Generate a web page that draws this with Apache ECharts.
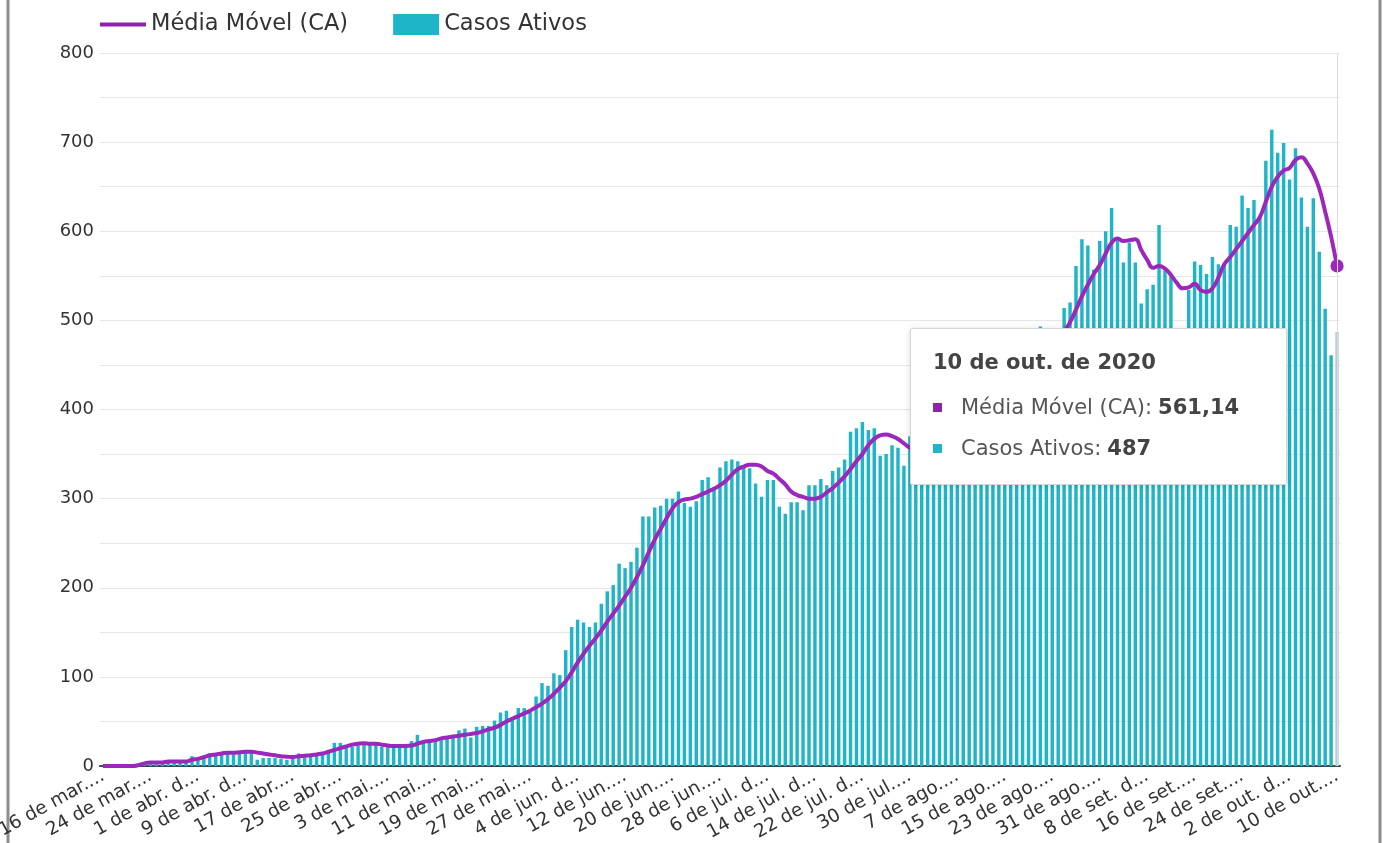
<!DOCTYPE html>
<html>
<head>
<meta charset="utf-8">
<script src="https://cdn.jsdelivr.net/npm/echarts@6/dist/echarts.min.js"></script>
<style>
  html, body { margin: 0; padding: 0; background: #fff; }
  #chart-container { width: 1391px; height: 843px; }
</style>
</head>
<body>
<div id="chart-container"></div>
<script>
// Casos ativos por dia (16 de mar. a 10 de out. de 2020)
const casosAtivos = [
  0, 0, 0, 0, 0, 2, 3, 4, 4, 4,
  5, 5, 5, 6, 6, 11, 9, 12, 14, 14,
  14, 15, 14, 15, 15, 15, 7, 9, 9, 9,
  8, 7, 9, 14, 10, 11, 12, 14, 18, 26,
  26, 22, 22, 23, 24, 24, 24, 22, 22, 21,
  21, 22, 28, 35, 28, 27, 28, 30, 31, 33,
  40, 42, 32, 44, 45, 45, 51, 60, 62, 55,
  65, 65, 63, 78, 93, 90, 104, 102, 130, 156,
  164, 161, 156, 161, 182, 196, 203, 227, 222, 229,
  245, 280, 280, 290, 292, 300, 300, 308, 295, 291,
  297, 321, 324, 313, 335, 342, 344, 342, 336, 334,
  317, 302, 321, 321, 291, 283, 296, 296, 287, 315,
  315, 322, 315, 331, 335, 344, 375, 379, 386, 377,
  379, 348, 350, 360, 357, 337, 370, 345, 352, 355,
  340, 362, 375, 370, 385, 392, 380, 405, 410, 398,
  425, 430, 418, 445, 455, 440, 468, 475, 493, 480,
  486, 478, 514, 520, 561, 591, 584, 557, 589, 600,
  626, 590, 565, 587, 565, 519, 535, 540, 607, 556,
  549, 485, 470, 534, 566, 562, 552, 571, 563, 563,
  607, 605, 640, 626, 635, 616, 679, 714, 688, 699,
  658, 693, 638, 605, 637, 577, 513, 461, 487
];

// Média móvel
const mediaMovel = [
  0, 0, 0, 0, 0, 0, 1, 3, 4, 4,
  4, 5, 5, 5, 5, 7, 8, 10, 12, 13,
  14, 15, 15, 15.5, 16, 16, 15, 14, 13, 12,
  11, 10.5, 10, 11, 11.5, 12, 13, 14, 16, 18,
  20, 22, 24, 25, 25.5, 25, 25, 24, 23, 22.5,
  22.5, 22.5, 23, 25, 27, 28, 29, 31, 32, 33,
  34, 35, 36, 37, 39, 41, 43, 46, 50, 53,
  56, 59, 62, 66, 70, 75, 81, 88, 95, 105,
  116, 126, 135, 143, 152, 162, 171, 180, 190, 200,
  212, 225, 240, 254, 266, 278, 289, 296, 299, 300,
  302, 305, 308, 311, 315, 320, 327, 333, 336, 338,
  338, 336, 331, 328, 322, 316, 308, 304, 302, 300,
  300, 302, 307, 312, 318, 325, 333, 342, 350, 360,
  367, 371, 372, 370, 367, 362, 357, 354, 352, 351,
  352, 355, 358, 362, 367, 372, 378, 384, 391, 398,
  405, 412, 419, 426, 433, 441, 449, 457, 465, 472,
  478, 483, 488, 498, 512, 527, 540, 552, 562, 575,
  587, 592, 589, 590, 591, 579, 568, 559, 561, 558,
  551, 542, 536, 537, 541, 534, 532, 536, 548, 563,
  571, 580, 589, 598, 607, 616, 633, 650, 661, 668,
  671, 680, 683, 676, 665, 648, 622, 594, 561.14
];

// Rótulos do eixo x (um a cada 8 dias, como aparecem cortados)
const rotulosX = [
  '16 de mar....', '24 de mar....', '1 de abr. d...', '9 de abr. d...',
  '17 de abr....', '25 de abr....', '3 de mai....', '11 de mai....',
  '19 de mai....', '27 de mai....', '4 de jun. d...', '12 de jun....',
  '20 de jun....', '28 de jun....', '6 de jul. d...', '14 de jul. d...',
  '22 de jul. d...', '30 de jul....', '7 de ago....', '15 de ago....',
  '23 de ago....', '31 de ago....', '8 de set. d...', '16 de set....',
  '24 de set....', '2 de out. d...', '10 de out....'
];

const nomesMeses = ['jan.', 'fev.', 'mar.', 'abr.', 'mai.', 'jun.', 'jul.', 'ago.', 'set.', 'out.', 'nov.', 'dez.'];
let datas = [];
for (let d = new Date(2020, 2, 16, 12); d <= new Date(2020, 9, 10, 12); d.setDate(d.getDate() + 1)) {
  datas.push(`${d.getDate()} de ${nomesMeses[d.getMonth()]} de 2020`);
}

const fonte = 'DejaVu Sans';
const ultimo = casosAtivos.length - 1;

let myChart = echarts.init(document.getElementById('chart-container'), null, {
  renderer: 'canvas'
});

function numeroBR(v) {
  return Number.isInteger(v) ? String(v) : v.toFixed(2).replace('.', ',');
}

const opciones = {
  animation: false,
  textStyle: { fontFamily: fonte },
  graphic: [
    { type: 'line', shape: { x1: 8, y1: 0, x2: 8, y2: 843 }, style: { stroke: '#8d8d8d', lineWidth: 3 } },
    { type: 'line', shape: { x1: 1380, y1: 0, x2: 1380, y2: 843 }, style: { stroke: '#8d8d8d', lineWidth: 3 } }
  ],
  legend: {
    left: 95,
    top: 8,
    itemWidth: 46,
    itemHeight: 21,
    itemGap: 45,
    textStyle: { fontSize: 22.5, color: '#333', fontFamily: fonte },
    data: [
      { name: 'Média Móvel (CA)', icon: 'path://M0,0H46V4H0Z' },
      { name: 'Casos Ativos', icon: 'rect' }
    ]
  },
  grid: { left: 100, right: 51, top: 53, bottom: 77, outerBoundsMode: 'none' },
  tooltip: {
    trigger: 'axis',
    alwaysShowContent: true,
    transitionDuration: 0,
    position: [910, 328],
    backgroundColor: '#fff',
    borderColor: '#d6d6d6',
    borderWidth: 1,
    padding: 0,
    extraCssText: 'box-shadow:0 1px 6px rgba(0,0,0,0.15);border-radius:2px;',
    axisPointer: { type: 'line', lineStyle: { color: '#dcdcdc', width: 1, type: 'solid' } },
    formatter: (params) => {
      const i = params[0].dataIndex;
      const linha = (cor, nome, valor) =>
        `<div style="display:flex;align-items:center;height:41px;font-size:21px;color:#555">` +
        `<span style="display:inline-block;width:9px;height:9px;background:${cor};margin-right:19px"></span>` +
        `${nome}: <b style="color:#444;margin-left:6px">${numeroBR(valor)}</b></div>`;
      return `<div style="width:331px;height:115px;padding:20px 22px;font-family:${fonte}">` +
        `<div style="font-weight:bold;font-size:21px;color:#444;height:34px;line-height:26px;margin-bottom:4px">${datas[i]}</div>` +
        linha('#8e24aa', 'Média Móvel (CA)', mediaMovel[i]) +
        linha('#1fb5c8', 'Casos Ativos', casosAtivos[i]) +
        `</div>`;
    }
  },
  xAxis: {
    type: 'category',
    data: datas,
    axisLine: { lineStyle: { color: '#37474f', width: 2 } },
    axisTick: { show: false },
    axisLabel: {
      interval: 7,
      rotate: 29,
      margin: 9,
      fontSize: 18.5,
      color: '#333',
      formatter: (v, idx) => rotulosX[idx / 8]
    }
  },
  yAxis: {
    type: 'value',
    min: 0,
    max: 800,
    interval: 50,
    axisLine: { show: false },
    axisTick: { show: false },
    splitLine: { lineStyle: { color: '#e6e6e6', width: 1 } },
    axisLabel: {
      fontSize: 18,
      color: '#333',
      margin: 6,
      formatter: (v) => (v % 100 === 0 ? v : '')
    }
  },
  series: [
    {
      name: 'Casos Ativos',
      type: 'bar',
      barWidth: '58%',
      itemStyle: { color: '#1fb5c8' },
      data: casosAtivos.map((v, i) => (i === ultimo ? { value: v, itemStyle: { color: '#a3bcc0' } } : v))
    },
    {
      name: 'Média Móvel (CA)',
      type: 'line',
      smooth: true,
      symbol: 'circle',
      showAllSymbol: true,
      symbolSize: (val, p) => (p.dataIndex === ultimo ? 12 : 0),
      lineStyle: { color: '#8e24aa', width: 4 },
      itemStyle: { color: '#8e24aa' },
      data: mediaMovel
    }
  ]
};

myChart.setOption(opciones);
myChart.dispatchAction({ type: 'showTip', seriesIndex: 0, dataIndex: ultimo });
window.addEventListener('resize', myChart.resize);
</script>
</body>
</html>
